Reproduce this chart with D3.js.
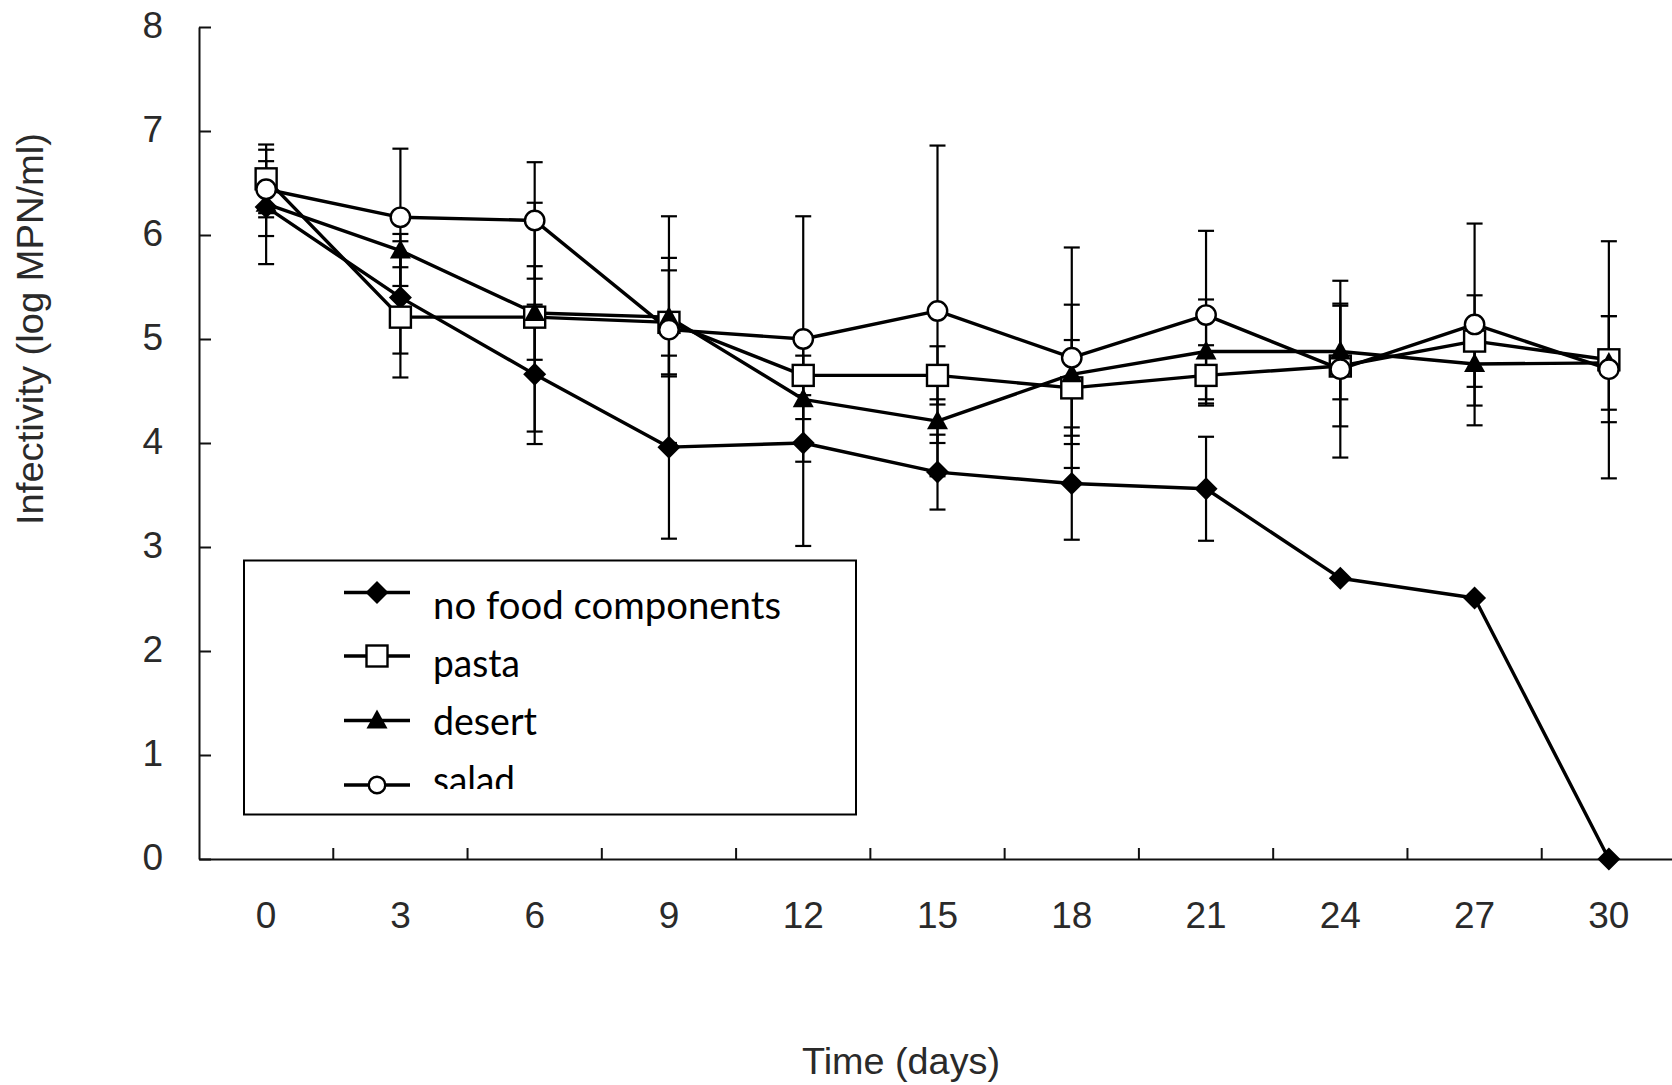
<!DOCTYPE html>
<html>
<head>
<meta charset="utf-8">
<script src="https://cdn.jsdelivr.net/npm/d3@7"></script>
<style>
  html, body { margin: 0; padding: 0; background: #fff; }
  svg { display: block; }
</style>
</head>
<body>
<svg id="chart" width="1672" height="1085"></svg>
<script>
// ---- data ----
const days = [0, 3, 6, 9, 12, 15, 18, 21, 24, 27, 30];
const yTicks = [0, 1, 2, 3, 4, 5, 6, 7, 8];

const noFood    = [6.27, 5.40, 4.66, 3.96, 4.00, 3.72, 3.61, 3.56, 2.70, 2.51, 0.00];
const noFoodErr = [0.55, 0.54, 0.67, 0.88, 0.99, 0.36, 0.54, 0.50, 0, 0, 0];
const pasta     = [6.54, 5.21, 5.21, 5.16, 4.65, 4.65, 4.53, 4.65, 4.74, 4.98, 4.80];
const pastaErr  = [0.33, 0.58, 1.10, 0.50, 0.19, 0.28, 0.46, 0.29, 0.58, 0.44, 1.14];
const desert    = [6.30, 5.85, 5.25, 5.21, 4.42, 4.21, 4.66, 4.88, 4.88, 4.76, 4.77];
const desertErr = [0.31, 0.16, 0.45, 0.57, 0.19, 0.21, 0.67, 0.50, 0.46, 0.40, 0.45];
const salad     = [6.44, 6.17, 6.14, 5.09, 5.00, 5.27, 4.82, 5.23, 4.71, 5.14, 4.71];
const saladErr  = [0.27, 0.66, 0.56, 1.09, 1.18, 1.59, 1.06, 0.81, 0.85, 0.97, 0.51];

const seriesNames = ["no food components", "pasta", "desert", "salad"];
const seriesValues = [noFood, pasta, desert, salad];
const seriesErrors = [noFoodErr, pastaErr, desertErr, saladErr];
const seriesMarkers = ["diamond", "square", "triangle", "circle"];

const xTitle = "Time (days)";
const yTitle = "Infectivity (log MPN/ml)";

// ---- layout ----
const svg = d3.select("#chart");
const axisFont = "'Liberation Sans', Arial, sans-serif";
const legendFont = "Lato, 'Open Sans', sans-serif";
const ink = "#111";
const textInk = "#2a2a2a";

const x = d3.scaleBand().domain(days).range([199, 1676]).padding(0);
const y = d3.scaleLinear().domain([0, 8]).range([859, 27]);
const cx = d => x(d) + x.bandwidth() / 2;

// y axis
const yAxis = svg.append("g").attr("transform", "translate(199,0)")
  .call(d3.axisLeft(y).tickValues(yTicks).tickFormat(d3.format("d"))
    .tickSizeInner(-12).tickSizeOuter(0).tickPadding(36));
yAxis.select(".domain").attr("stroke", ink).attr("stroke-width", 2);
yAxis.selectAll(".tick line").attr("stroke", ink).attr("stroke-width", 2);
yAxis.selectAll(".tick text").attr("font-family", axisFont).attr("font-size", 37)
  .attr("fill", textInk).attr("dy", "0.28em");

// x axis
const xAxis = svg.append("g").attr("transform", "translate(0,859)")
  .call(d3.axisBottom(x).tickSizeInner(0).tickSizeOuter(0).tickPadding(43));
xAxis.select(".domain").attr("stroke", ink).attr("stroke-width", 2);
xAxis.selectAll(".tick text").attr("font-family", axisFont).attr("font-size", 37)
  .attr("fill", textInk);
// category-boundary tick marks (pointing up)
svg.append("g").selectAll("line").data(days.slice(1)).join("line")
  .attr("x1", d => x(d)).attr("x2", d => x(d))
  .attr("y1", 859).attr("y2", 848)
  .attr("stroke", ink).attr("stroke-width", 2);

// axis titles
svg.append("text").text(yTitle)
  .attr("transform", "translate(43,329) rotate(-90)")
  .attr("text-anchor", "middle").attr("font-family", axisFont).attr("font-size", 37)
  .attr("fill", textInk).attr("textLength", 392).attr("lengthAdjust", "spacingAndGlyphs");
svg.append("text").text(xTitle)
  .attr("x", 901).attr("y", 1074)
  .attr("text-anchor", "middle").attr("font-family", axisFont).attr("font-size", 37)
  .attr("fill", textInk).attr("textLength", 198).attr("lengthAdjust", "spacingAndGlyphs");

// ---- marker drawing ----
function drawMarker(g, type, px, py, scale) {
  const s = scale || 1;
  if (type === "diamond") {
    const r = 11.5 * s;
    g.append("path").attr("d", `M${px},${py - r}L${px + r},${py}L${px},${py + r}L${px - r},${py}Z`)
      .attr("fill", "#000");
  } else if (type === "square") {
    const h = 10.5 * s;
    g.append("rect").attr("x", px - h).attr("y", py - h).attr("width", 2 * h).attr("height", 2 * h)
      .attr("fill", "#fff").attr("stroke", "#000").attr("stroke-width", 2.4);
  } else if (type === "triangle") {
    const w = 10.5 * s, t = 11 * s, b = 8 * s;
    g.append("path").attr("d", `M${px},${py - t}L${px + w},${py + b}L${px - w},${py + b}Z`)
      .attr("fill", "#000");
  } else {
    g.append("circle").attr("cx", px).attr("cy", py).attr("r", 9.7 * s)
      .attr("fill", "#fff").attr("stroke", "#000").attr("stroke-width", 2.4);
  }
}

// ---- error bars ----
const errG = svg.append("g");
seriesValues.forEach((vals, si) => {
  const errs = seriesErrors[si];
  vals.forEach((v, i) => {
    const e = errs[i];
    if (!e) return;
    const px = cx(days[i]);
    const y1 = y(v + e), y2 = y(v - e);
    errG.append("line").attr("x1", px).attr("x2", px).attr("y1", y1).attr("y2", y2)
      .attr("stroke", "#000").attr("stroke-width", 2.2);
    [y1, y2].forEach(yy => errG.append("line")
      .attr("x1", px - 8).attr("x2", px + 8).attr("y1", yy).attr("y2", yy)
      .attr("stroke", "#000").attr("stroke-width", 2.2));
  });
});

// ---- lines ----
const line = d3.line().x((d, i) => cx(days[i])).y(d => y(d));
const lineG = svg.append("g");
seriesValues.forEach(vals => {
  lineG.append("path").attr("d", line(vals)).attr("fill", "none")
    .attr("stroke", "#000").attr("stroke-width", 3.4).attr("stroke-linejoin", "round");
});

// ---- markers ----
const markG = svg.append("g");
seriesValues.forEach((vals, si) => {
  vals.forEach((v, i) => drawMarker(markG, seriesMarkers[si], cx(days[i]), y(v)));
});

// ---- legend ----
const leg = svg.append("g");
leg.append("rect").attr("x", 244).attr("y", 560.5).attr("width", 612).attr("height", 254)
  .attr("fill", "#fff").attr("stroke", "#000").attr("stroke-width", 2);
svg.append("defs").append("clipPath").attr("id", "legclip")
  .append("rect").attr("x", 244).attr("y", 560).attr("width", 612).attr("height", 229);
const markerY = [592.5, 656, 720.5, 785];
const textY = [618.5, 676.5, 735, 794];
const textLen = [348, 87, 104, 82];
seriesNames.forEach((name, si) => {
  leg.append("line").attr("x1", 344).attr("x2", 410).attr("y1", markerY[si]).attr("y2", markerY[si])
    .attr("stroke", "#000").attr("stroke-width", 3.4);
  drawMarker(leg, seriesMarkers[si], 377, markerY[si], si === 3 ? 0.85 : 1);
  leg.append("text").text(name).attr("x", 433).attr("y", textY[si])
    .attr("font-family", legendFont).attr("font-size", 39).attr("fill", "#000")
    .attr("textLength", textLen[si]).attr("lengthAdjust", "spacingAndGlyphs")
    .attr("clip-path", "url(#legclip)");
});
</script>
</body>
</html>
